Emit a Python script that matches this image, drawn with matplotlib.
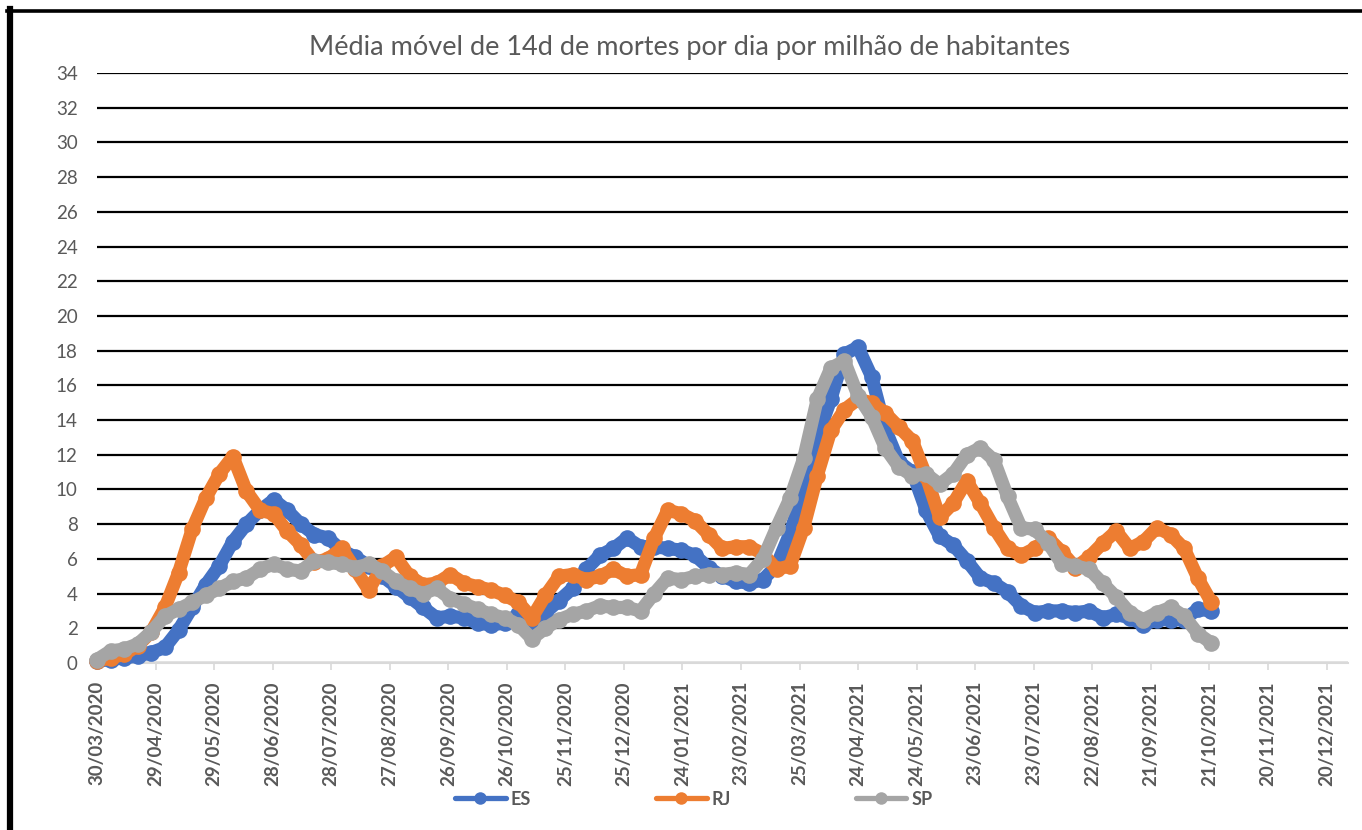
import matplotlib
matplotlib.use("Agg")
import matplotlib.pyplot as plt
from matplotlib.lines import Line2D
import numpy as np
import pandas as pd

# ---- data (roughly weekly samples) ----
start_date = "2020-03-30"
end_date = "2021-10-22"

ES = [0.1, 0.2, 0.3, 0.4, 0.6, 0.9, 1.9, 3.2, 4.5, 5.6,
      7.0, 8.0, 8.8, 9.4, 8.8, 8.0, 7.4, 7.2, 6.5, 6.1,
      5.6, 5.0, 4.4, 3.8, 3.2, 2.6, 2.7, 2.6, 2.3, 2.2,
      2.3, 2.8, 2.0, 2.9, 3.6, 4.3, 5.4, 6.2, 6.6, 7.2,
      6.7, 6.7, 6.6, 6.5, 6.2, 5.5, 5.0, 4.7, 4.6, 4.8,
      5.6, 7.5, 10.0, 13.0, 15.2, 17.8, 18.2, 16.5, 13.5, 11.6,
      11.0, 8.8, 7.3, 6.8, 5.9, 4.9, 4.6, 4.1, 3.3, 2.9,
      3.0, 3.0, 2.9, 3.0, 2.6, 2.8, 2.6, 2.2, 2.5, 2.5,
      2.5, 3.1, 3.0]

RJ = [0.1, 0.3, 0.5, 1.0, 1.8, 3.2, 5.2, 7.7, 9.5, 10.9,
      11.9, 9.9, 8.8, 8.6, 7.6, 6.8, 5.8, 6.0, 6.6, 5.4,
      4.2, 5.6, 6.1, 5.0, 4.5, 4.6, 5.1, 4.6, 4.4, 4.2,
      3.9, 3.5, 2.6, 3.9, 5.0, 5.1, 4.8, 5.0, 5.4, 5.0,
      5.1, 7.2, 8.8, 8.6, 8.2, 7.4, 6.6, 6.7, 6.7, 6.3,
      5.4, 5.6, 7.8, 10.8, 13.4, 14.6, 15.2, 15.0, 14.4, 13.6,
      12.8, 10.8, 8.4, 9.2, 10.5, 9.2, 7.8, 6.6, 6.2, 6.6,
      7.2, 6.4, 5.5, 6.1, 6.9, 7.6, 6.6, 7.0, 7.8, 7.4,
      6.6, 4.9, 3.5]

SP = [0.2, 0.7, 0.8, 1.1, 1.8, 2.7, 3.1, 3.5, 3.9, 4.3,
      4.7, 4.9, 5.4, 5.7, 5.4, 5.3, 5.9, 5.8, 5.7, 5.5,
      5.7, 5.3, 4.7, 4.3, 4.0, 4.3, 3.7, 3.4, 3.1, 2.8,
      2.6, 2.2, 1.4, 2.0, 2.5, 2.8, 3.0, 3.3, 3.2, 3.2,
      3.0, 4.0, 4.9, 4.8, 5.0, 5.1, 5.1, 5.2, 5.1, 6.0,
      7.8, 9.5, 11.8, 15.2, 17.0, 17.4, 15.4, 14.2, 12.4, 11.3,
      10.8, 10.9, 10.3, 10.9, 12.0, 12.4, 11.7, 9.6, 7.8, 7.7,
      6.9, 5.7, 5.6, 5.4, 4.6, 3.8, 2.9, 2.5, 2.9, 3.2,
      2.7, 1.7, 1.15]

series_names = ["ES", "RJ", "SP"]
series_colors = ["#4472C4", "#ED7D31", "#A5A5A5"]

tick_start = "2020-03-30"
tick_count = 22          # one tick every 30 days
title = "Média móvel de 14d de mortes por dia por milhão de habitantes"

# ---- figure ----
plt.rcParams["font.family"] = ["Lato", "DejaVu Sans"]
fig = plt.figure(figsize=(13.62, 8.30), dpi=100)
W, H = 1362, 830
ax = fig.add_axes([97 / W, 1 - 663 / H, (1348 - 97) / W, (663 - 73) / H])

dates = pd.date_range(start=start_date, end=end_date, periods=len(ES))
for name, vals, col, z in zip(series_names, [ES, RJ, SP], series_colors, [3, 4, 5]):
    ax.plot(dates, vals, color=col, lw=9.5, marker="o", markersize=12,
            markeredgewidth=0, solid_capstyle="round", solid_joinstyle="round",
            zorder=z, clip_on=False)

t0 = pd.Timestamp(tick_start)
ticks = [t0 + pd.Timedelta(days=30 * i) for i in range(tick_count)]
tick_labels = [t.strftime("%d/%m/%Y") for t in ticks]
ax.set_xticks(ticks, labels=tick_labels, fontweight="bold")
ax.set_xlim(t0, t0 + pd.Timedelta(days=641))
ax.set_ylim(0, 34)
ax.set_yticks(np.arange(0, 35, 2))

ax.grid(axis="y", color="black", lw=1.6, zorder=1)
ax.set_axisbelow(True)
for s in ["top", "right", "left"]:
    ax.spines[s].set_visible(False)
ax.spines["bottom"].set_color("#D9D9D9")
ax.spines["bottom"].set_linewidth(1.5)
ax.spines["bottom"].set_zorder(2)

ax.tick_params(axis="y", length=0, pad=14, labelsize=13.5, labelcolor="#595959")
ax.tick_params(axis="x", length=5, width=1.2, color="#D9D9D9", pad=8,
               labelsize=13.5, labelcolor="#595959", labelrotation=90)

fig.text(690 / W, 1 - 47 / H, title, ha="center", va="center",
         fontsize=19.5, color="#595959")

handles = [Line2D([0], [0], color=c, lw=3.8, marker="o", markersize=9,
                  markeredgewidth=0, solid_capstyle="round") for c in series_colors]
leg = fig.legend(handles, series_names, loc="center", bbox_to_anchor=(694 / W, 1 - 799 / H),
                 ncol=3, frameon=False, handlelength=2.8, handletextpad=0.3,
                 columnspacing=6.9, prop={"weight": "bold", "size": 13})
for t in leg.get_texts():
    t.set_color("#595959")

# chart frame (left and top edges visible in the reference)
fig.add_artist(Line2D([10 / W, 10 / W], [0, 1 - 9 / H], color="black", lw=4.5,
                      transform=fig.transFigure))
fig.add_artist(Line2D([7 / W, 1], [1 - 11 / H, 1 - 11 / H], color="black", lw=2.6,
                      transform=fig.transFigure))

fig.savefig("out.png", dpi=100, facecolor="white")
